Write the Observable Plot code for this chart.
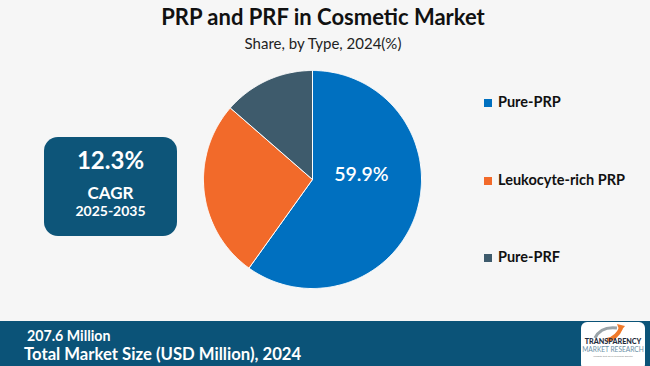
<!DOCTYPE html>
<html>
<head>
<meta charset="utf-8">
<script src="https://cdn.jsdelivr.net/npm/d3@7"></script>
<script src="https://cdn.jsdelivr.net/npm/@observablehq/plot@0.6"></script>
<style>
  html, body { margin: 0; padding: 0; }
  body { width: 650px; height: 366px; overflow: hidden; }
  #wrap { position: relative; width: 650px; height: 366px; background: #f6f6f6; font-family: Lato, "Open Sans", sans-serif; }
  .abs { position: absolute; white-space: nowrap; }
  #title { left: 0; width: 646px; top: 3px; text-align: center; font-weight: 700; font-size: 22px; color: #111; font-family: Lato, sans-serif; }
  #subtitle { left: 0; width: 646px; top: 34px; text-align: center; font-size: 15px; color: #222; }
  #cagr { left: 44px; top: 137px; width: 133px; height: 99px; background: #0d5579; border-radius: 14px; color: #fff; text-align: center; }
  #cagr .v { position: absolute; left: 0; width: 100%; top: 8px; font-size: 24px; font-weight: 700; }
  #cagr .l { position: absolute; left: 0; width: 100%; top: 45px; font-size: 17px; font-weight: 700; }
  #cagr .y { position: absolute; left: 0; width: 100%; top: 65px; font-size: 14px; font-weight: 700; }
  #pie { left: 203px; top: 70px; }
  .leg { left: 484px; font-size: 14.5px; font-weight: 700; color: #111; font-family: Lato, sans-serif; }
  .leg span.sw { display: inline-block; width: 8px; height: 8px; margin-right: 6px; vertical-align: 0px; }
  #bar { left: 0; top: 321px; width: 650px; height: 45px; background: #0b5378; }
  #b1 { left: 27px; top: 327px; font-size: 14.2px; font-weight: 700; color: #fff; }
  #b2 { left: 24px; top: 344px; font-size: 16.7px; font-weight: 700; color: #fff; }
  #logo { left: 581px; top: 322px; width: 64px; height: 48px; background: #fff; border-radius: 6px; }
</style>
</head>
<body>
<div id="wrap"></div>
<script>
// ---- data ----
const categories = ["Pure-PRP", "Leukocyte-rich PRP", "Pure-PRF"];
const shares = [59.9, 26.5, 13.6];
const colors = ["#0070c0", "#f26a2a", "#3e5b6c"];
const sliceLabels = ["59.9%", "", ""];
const titleText = "PRP and PRF in Cosmetic Market";
const subtitleText = "Share, by Type, 2024(%)";
const cagrValue = "12.3%";
const cagrLabel = "CAGR";
const cagrYears = "2025-2035";
const marketValue = "207.6 Million";
const marketLabel = "Total Market Size (USD Million), 2024";

const wrap = document.getElementById("wrap");
function addDiv(id, cls, html) {
  const d = document.createElement("div");
  if (id) d.id = id;
  d.className = "abs " + (cls || "");
  d.innerHTML = html || "";
  wrap.appendChild(d);
  return d;
}

addDiv("title", "", titleText);
addDiv("subtitle", "", subtitleText);
addDiv("cagr", "", `<div class="v">${cagrValue}</div><div class="l">${cagrLabel}</div><div class="y">${cagrYears}</div>`);

// ---- pie via Plot ----
const data = categories.map((c, i) => ({name: c, share: shares[i], label: sliceLabels[i]}));
const arcs = d3.pie().sort(null).value(d => d.share)(data);
const pts = [];
for (const a of arcs) {
  pts.push({name: a.data.name, x: 0, y: 0});
  const n = Math.max(2, Math.ceil((a.endAngle - a.startAngle) / 0.01));
  for (let k = 0; k <= n; k++) {
    const t = a.startAngle + (a.endAngle - a.startAngle) * k / n;
    pts.push({name: a.data.name, x: Math.sin(t), y: Math.cos(t)});
  }
  pts.push({name: a.data.name, x: 0, y: 0});
}
const labels = arcs.filter(a => a.data.label).map(a => {
  const m = (a.startAngle + a.endAngle) / 2;
  return {x: 0.5 * Math.sin(m), y: 0.5 * Math.cos(m), text: a.data.label};
});

const pie = Plot.plot({
  width: 218, height: 218, margin: 0,
  x: {domain: [-1, 1], axis: null},
  y: {domain: [-1, 1], axis: null},
  color: {domain: categories, range: colors},
  style: {background: "transparent", overflow: "visible"},
  marks: [
    Plot.line(pts, {x: "x", y: "y", z: "name", fill: "name", stroke: "white", strokeWidth: 1, strokeLinejoin: "round", curve: "linear"}),
    Plot.text(labels, {x: "x", y: "y", text: "text", fill: "white", fontSize: 19.5, fontWeight: 600, fontFamily: "Lato, sans-serif", dx: -3, dy: -21})
  ]
});
const pieBox = addDiv("pie", "");
pieBox.appendChild(pie);

// ---- legend ----
const legTops = [93, 171, 248];
categories.forEach((c, i) => {
  const d = addDiv(null, "leg", `<span class="sw" style="background:${colors[i]}"></span>${c}`);
  d.style.top = legTops[i] + "px";
});

// ---- bottom bar ----
addDiv("bar", "");
addDiv("b1", "", marketValue);
addDiv("b2", "", marketLabel);
addDiv("logo", "", `<svg width="64" height="44" viewBox="0 0 64 44">
  <path d="M14 16 Q20 4 36 6" fill="none" stroke="#9aa3a8" stroke-width="3"/>
  <path d="M26 18 Q36 16 40 6" fill="none" stroke="#f07a2a" stroke-width="4"/>
  <path d="M36 2 L44 4 L39 10 Z" fill="#f07a2a"/>
  <text x="32" y="22" text-anchor="middle" font-family="Lato, sans-serif" font-weight="900" font-size="7.2" fill="#1f2d3d">TRANSPARENCY</text>
  <text x="32" y="30" text-anchor="middle" font-family="Lato, sans-serif" font-size="6.6" fill="#6b8fa6">MARKET RESEARCH</text>
  <text x="32" y="34.5" text-anchor="middle" font-family="Lato, sans-serif" font-size="2.6" fill="#888">Insights that drive business growth</text>
</svg>`);
</script>
</body>
</html>
